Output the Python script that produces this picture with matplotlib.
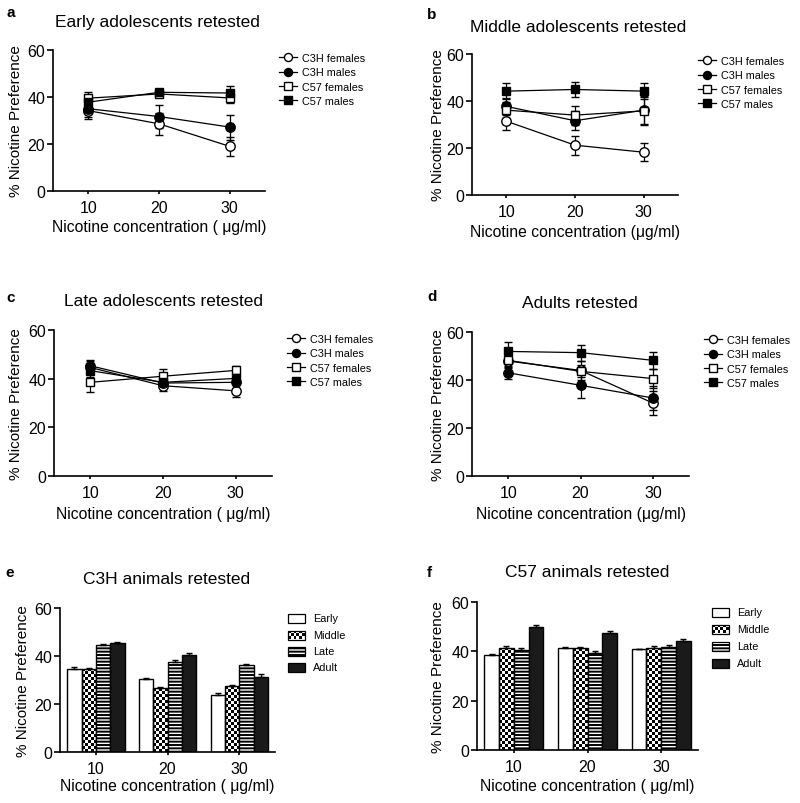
"""
Nicotine preference of retested mice: four line panels (a-d) and two bar panels (e-f)
"""

import numpy as np
import matplotlib
matplotlib.use("Agg")
import matplotlib.pyplot as plt
from matplotlib.lines import Line2D
from matplotlib.patches import Rectangle

plt.rcParams['font.family'] = ['Liberation Sans', 'DejaVu Sans']
plt.rcParams['hatch.linewidth'] = 1.4

# ---- data ----
concentrations = [10, 20, 30]
line_groups = ['C3H females', 'C3H males', 'C57 females', 'C57 males']
bar_groups = ['Early', 'Middle', 'Late', 'Adult']

# rows follow line_groups, columns follow concentrations
early_mean = [[34.2, 28.6, 19.0], [35.0, 31.7, 27.2], [39.5, 41.3, 39.6], [37.8, 42.0, 41.7]]
early_sem = [[3.5, 4.6, 4.0], [3.5, 5.0, 5.3], [2.5, 1.5, 2.0], [3.0, 1.5, 3.0]]
middle_mean = [[31.4, 21.2, 18.2], [37.7, 31.6, 36.1], [36.1, 34.0, 35.8], [44.2, 44.9, 44.2]]
middle_sem = [[3.7, 4.0, 3.8], [3.5, 4.0, 6.0], [3.5, 4.0, 6.0], [3.3, 3.3, 3.3]]
late_mean = [[44.6, 37.1, 35.0], [45.3, 38.2, 38.5], [38.5, 41.0, 43.4], [43.3, 38.5, 40.1]]
late_sem = [[2.5, 2.0, 2.5], [2.5, 2.0, 2.5], [3.8, 3.0, 2.0], [2.5, 2.0, 2.5]]
adult_mean = [[47.9, 44.0, 30.4], [43.0, 37.8, 32.5], [48.2, 43.6, 40.6], [51.9, 51.4, 48.2]]
adult_sem = [[3.0, 4.0, 5.0], [2.5, 5.5, 5.0], [2.5, 2.5, 4.0], [4.0, 3.3, 3.5]]

# rows follow bar_groups, columns follow concentrations
c3h_mean = [[34.6, 30.4, 23.8], [34.6, 26.6, 27.3], [44.4, 37.7, 36.3], [45.3, 40.6, 31.4]]
c3h_sem = [[0.7, 0.6, 0.6], [0.3, 0.3, 0.6], [0.5, 0.5, 0.5], [0.4, 0.6, 1.0]]
c57_mean = [[38.5, 41.5, 40.8], [41.5, 41.2, 41.5], [40.7, 39.5, 41.8], [49.9, 47.3, 44.2]]
c57_sem = [[0.4, 0.3, 0.3], [0.6, 0.5, 0.5], [0.6, 0.5, 0.6], [0.7, 0.8, 0.6]]

W, H = 800, 804
fig = plt.figure(figsize=(W / 100, H / 100), dpi=100)

XLABEL = 'Nicotine concentration ( μg/ml)'
XLABEL_TIGHT = 'Nicotine concentration (μg/ml)'
YLABEL = '% Nicotine Preference'
line_styles = [('o', 'white'), ('o', 'black'), ('s', 'white'), ('s', 'black')]


def add_ax(left, right, top, bottom):
    """axes placed by pixel edges (top-left origin)"""
    return fig.add_axes([left / W, 1 - bottom / H, (right - left) / W, (bottom - top) / H])


def style_ax(ax):
    for side in ('top', 'right'):
        ax.spines[side].set_visible(False)
    for side in ('left', 'bottom'):
        ax.spines[side].set_linewidth(1.2)
    ax.set_xlim(5, 35)
    ax.set_ylim(0, 60)
    ax.set_xticks(concentrations)
    ax.set_yticks([0, 20, 40, 60])
    ax.tick_params(axis='y', length=4, width=1.2, pad=1.5, labelsize=11.5)
    ax.tick_params(axis='x', length=2.5, width=1.2, pad=4, labelsize=11.5)


def add_texts(ax, letter, lxy, title, txy, ylx, xly, xlabel):
    fig.text(lxy[0] / W, 1 - lxy[1] / H, letter, fontsize=11, fontweight='bold', ha='center', va='center')
    fig.text(txy[0] / W, 1 - txy[1] / H, title, fontsize=12.5, ha='center', va='center')
    pos = ax.get_position()
    fig.text(ylx / W, pos.y0 + pos.height / 2, YLABEL, fontsize=11, rotation=90, ha='center', va='center')
    fig.text(pos.x0 + pos.width / 2, 1 - xly / H, xlabel, fontsize=11.3, ha='center', va='center')


def line_panel(box, means, sems, letter, lxy, title, txy, ylx, xly, leg_xy, xlabel=XLABEL):
    ax = add_ax(*box)
    style_ax(ax)
    for (m, fc), mean, sem in zip(line_styles, means, sems):
        ax.errorbar(concentrations, mean, yerr=sem, color='black', lw=0.9, marker=m,
                    mfc=fc, mec='black', mew=1.0, ms=6.8 if m == 'o' else 6.3,
                    capsize=2.8, elinewidth=0.9, capthick=0.9, clip_on=False, zorder=3)
    handles = [Line2D([], [], color='black', lw=0.9, marker=m, mfc=fc, mec='black',
                      mew=1.0, ms=5.8) for m, fc in line_styles]
    ax.legend(handles, line_groups, loc='upper left',
              bbox_to_anchor=(leg_xy[0] / W, 1 - leg_xy[1] / H), bbox_transform=fig.transFigure,
              frameon=False, fontsize=7.8, handlelength=1.7, handletextpad=0.45,
              labelspacing=0.4, borderpad=0, borderaxespad=0)
    add_texts(ax, letter, lxy, title, txy, ylx, xly, xlabel)
    return ax


def checker_fill(ax, rect, cell=3.0):
    """fill a rectangle with a black/white checkerboard clipped to it"""
    x0, y0 = rect.get_x(), rect.get_y()
    x1, y1 = x0 + rect.get_width(), y0 + rect.get_height()
    (px0, py0), (px1, py1) = ax.transData.transform([(x0, y0), (x1, y1)])
    nx = max(1, int(round(abs(px1 - px0) / cell)))
    ny = max(1, int(round(abs(py1 - py0) / cell)))
    img = (np.add.outer(np.arange(ny), np.arange(nx)) % 2).astype(float)
    im = ax.imshow(img, extent=(x0, x1, y0, y1), cmap='gray', vmin=0, vmax=1,
                   interpolation='nearest', aspect='auto', zorder=rect.get_zorder() - 0.5)
    im.set_clip_path(rect)


def bar_style(ax, i, rects):
    for r in rects:
        if i == 1:
            r.set_facecolor('none')
            checker_fill(ax, r)
        elif i == 2:
            r.set_facecolor('white')
            r.set_hatch('-----')
        elif i == 3:
            r.set_facecolor('#1a1a1a')
        else:
            r.set_facecolor('white')


def bar_panel(box, means, sems, letter, lxy, title, txy, ylx, xly, leg_x, leg_rows):
    ax = add_ax(*box)
    style_ax(ax)
    offsets = [-3, -1, 1, 3]
    x = np.array(concentrations, dtype=float)
    for i, (mean, sem) in enumerate(zip(means, sems)):
        bars = ax.bar(x + offsets[i], mean, width=2, edgecolor='black', lw=1.0, zorder=2)
        bar_style(ax, i, bars.patches)
        ax.errorbar(x + offsets[i], mean, yerr=[np.zeros(len(sem)), sem], fmt='none',
                    ecolor='black', elinewidth=1.0, capsize=2.5, capthick=1.0, zorder=3)
    ax.set_xlim(5, 35)
    ax.set_ylim(0, 60)

    # legend drawn by hand so the checkerboard swatch can be shown
    lax = fig.add_axes([0, 0, 1, 1], zorder=5)
    lax.set_xlim(0, W)
    lax.set_ylim(H, 0)
    lax.axis('off')
    for i, (label, yc) in enumerate(zip(bar_groups, leg_rows)):
        sw = Rectangle((leg_x, yc - 4.5), 17, 9, edgecolor='black', lw=0.9, zorder=2)
        lax.add_patch(sw)
        bar_style(lax, i, [sw])
        lax.text(leg_x + 25, yc, label, fontsize=7.8, va='center', ha='left')
    lax.set_xlim(0, W)
    lax.set_ylim(H, 0)
    add_texts(ax, letter, lxy, title, txy, ylx, xly, XLABEL)
    return ax


line_panel((53, 265, 51, 192), early_mean, early_sem, 'a', (11, 13),
           'Early adolescents retested', (157, 23), 16, 228, (279, 54))
line_panel((472, 678, 55, 196), middle_mean, middle_sem, 'b', (432, 15),
           'Middle adolescents retested', (578, 27), 438, 232, (698, 57), XLABEL_TIGHT)
line_panel((54, 272, 331, 477), late_mean, late_sem, 'c', (11, 298),
           'Late adolescents retested', (163, 302), 16, 515, (287, 335))
line_panel((472, 689, 333, 477), adult_mean, adult_sem, 'd', (432, 297),
           'Adults retested', (580, 303), 438, 515, (704, 336), XLABEL_TIGHT)
bar_panel((60, 275, 609, 753), c3h_mean, c3h_sem, 'e', (10, 573),
          'C3H animals retested', (167, 580), 23, 787, 288, [619, 636, 652, 668])
bar_panel((477, 698, 603, 751), c57_mean, c57_sem, 'f', (429, 573),
          'C57 animals retested', (587, 573), 438, 787, 712, [613, 630, 647, 664])

fig.savefig('out.png', dpi=100, facecolor='white')
